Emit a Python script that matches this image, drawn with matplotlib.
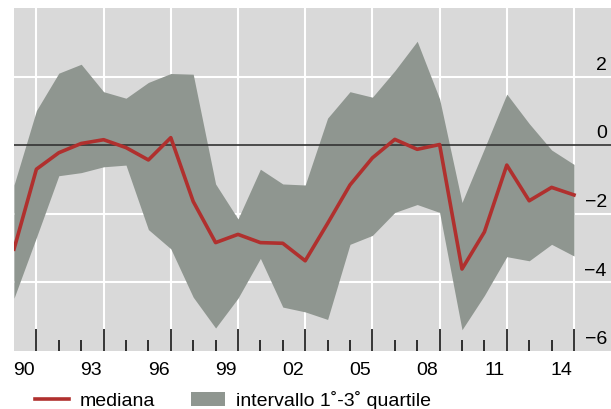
import matplotlib
matplotlib.use("Agg")
import matplotlib.pyplot as plt
import numpy as np

plt.rcParams["font.family"] = ["Liberation Sans", "DejaVu Sans"]

# one point per period, 26 points; index 0 sits on the left edge
mediana = [-3.03, -0.70, -0.22, 0.05, 0.16, -0.07, -0.43, 0.22, -1.64, -2.84,
           -2.60, -2.84, -2.86, -3.37, -2.28, -1.16, -0.37, 0.17, -0.12, 0.02,
           -3.61, -2.53, -0.58, -1.62, -1.23, -1.45]
q3 = [-1.16, 1.01, 2.10, 2.36, 1.56, 1.37, 1.83, 2.09, 2.07, -1.13,
      -2.15, -0.70, -1.13, -1.16, 0.79, 1.56, 1.40, 2.17, 3.03, 1.35,
      -1.67, -0.10, 1.49, 0.63, -0.14, -0.56]
q1 = [-4.46, -2.69, -0.89, -0.80, -0.63, -0.58, -2.46, -3.02, -4.43, -5.33,
      -4.46, -3.30, -4.72, -4.86, -5.08, -2.89, -2.63, -1.96, -1.73, -1.96,
      -5.38, -4.38, -3.25, -3.37, -2.89, -3.23]
year_labels = ["90", "93", "96", "99", "02", "05", "08", "11", "14"]
y_labels = [2, 0, -2, -4, -6]

RED = "#b0302e"
BAND = "#8f9690"
BG = "#d9d9d9"
FS = 14

x = np.arange(len(mediana))

fig = plt.figure(figsize=(6.11, 4.09), dpi=100)
W, H = 611, 409
ax = fig.add_axes([14 / W, (H - 351) / H, (W - 14) / W, (351 - 8) / H])
ax.set_facecolor(BG)
ax.set_xlim(0, (W - 14) / 22.4)
ax.set_ylim(-6, 4)
for s in ax.spines.values():
    s.set_visible(False)

# grid
major = np.arange(1, len(x), 3)
minor = [i for i in x[1:] if i not in major]
for v in (2, -2, -4):
    ax.axhline(v, color="white", lw=1.5, zorder=1)
for v in major:
    ax.axvline(v, color="white", lw=1.5, zorder=1)

band = ax.fill_between(x, q1, q3, color=BAND, lw=0, zorder=2,
                       label="intervallo 1˚-3˚ quartile")
ax.axhline(0, color="#333333", lw=1.2, zorder=3)
line, = ax.plot(x, mediana, color=RED, lw=2.6, zorder=4, label="mediana")

ax.set_xticks(major)
ax.set_xticks(minor, minor=True)
ax.set_yticks([])
ax.tick_params(axis="x", which="major", direction="in", length=16,
               width=1.1, color="black", labelbottom=False)
ax.tick_params(axis="x", which="minor", direction="in", length=8,
               width=1.1, color="black")

xt = ax.get_xaxis_transform()
for k, lab in enumerate(year_labels):
    ax.text(0.45 + 3 * k, -0.057, lab, transform=xt, ha="center",
            va="center", fontsize=FS)

yt = ax.get_yaxis_transform()
for v in y_labels:
    lab = f"{v}".replace("-", "\u2212")
    ax.annotate(lab, (0.993, v), xycoords=yt, xytext=(0, 2),
                textcoords="offset points", ha="right", va="bottom",
                fontsize=FS)

fig.legend(handles=[line, band], loc="center left",
           bbox_to_anchor=(35 / W, 1 - 400 / H), ncol=2, frameon=False,
           fontsize=FS, borderpad=0, borderaxespad=0, handlelength=1.75,
           handletextpad=0.55, columnspacing=1.85)

fig.savefig("out.png", dpi=100)
